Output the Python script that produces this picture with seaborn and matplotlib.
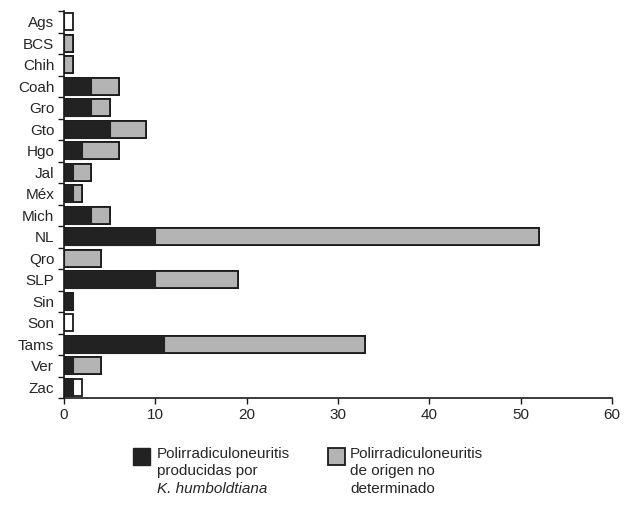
import numpy as np
import pandas as pd
import seaborn as sns
import matplotlib.pyplot as plt
from matplotlib.patches import Rectangle

estados = ["Ags", "BCS", "Chih", "Coah", "Gro", "Gto", "Hgo", "Jal", "Méx",
           "Mich", "NL", "Qro", "SLP", "Sin", "Son", "Tams", "Ver", "Zac"]
# casos producidos por K. humboldtiana (negro)
humboldtiana = [0, 0, 0, 3, 3, 5, 2, 1, 1, 3, 10, 0, 10, 1, 0, 11, 1, 1]
# casos de origen no determinado (gris)
no_determinado = [0, 1, 1, 3, 2, 4, 4, 2, 1, 2, 42, 4, 9, 0, 0, 22, 3, 0]
# segmentos sin relleno en la figura original
sin_relleno = [1, 0, 0, 0, 0, 0, 0, 0, 0, 0, 0, 0, 0, 0, 1, 0, 0, 1]

sns.set_style("ticks")
plt.rcParams['font.family'] = ['Liberation Sans', 'DejaVu Sans']

df = pd.DataFrame({"estado": estados,
                   "kh": humboldtiana,
                   "nd": no_determinado,
                   "sr": sin_relleno})
df["kh_nd"] = df["kh"] + df["nd"]
df["total"] = df["kh_nd"] + df["sr"]

fig = plt.figure(figsize=(6.33, 5.05), dpi=100)
ax = fig.add_axes([64/633, 1 - 398/505, (612-64)/633, (398-11)/505])

edge = "#1a1a1a"
w = 0.78
sns.barplot(data=df, x="total", y="estado", color="white", orient="h",
            width=w, edgecolor=edge, linewidth=1.3, saturation=1, ax=ax)
sns.barplot(data=df, x="kh_nd", y="estado", color="#b4b4b4", orient="h",
            width=w, edgecolor=edge, linewidth=1.3, saturation=1, ax=ax)
sns.barplot(data=df, x="kh", y="estado", color="#222222", orient="h",
            width=w, edgecolor="#222222", linewidth=0.8, saturation=1, ax=ax)

ax.set_xlim(0, 60)
ax.set_ylim(len(estados) - 0.5, -0.5)
ax.set_xticks(np.arange(0, 61, 10))
ax.set_xlabel("")
ax.set_ylabel("")
ax.set_yticks(np.arange(len(estados)))
ax.set_yticks(np.arange(-0.5, len(estados), 1), minor=True)
ax.tick_params(axis="y", which="major", length=0, pad=7, labelsize=11)
ax.tick_params(axis="y", which="minor", length=4, width=1, color=edge)
ax.tick_params(axis="x", length=4, width=1, labelsize=11, color=edge)
for s in ["top", "right"]:
    ax.spines[s].set_visible(False)
for s in ["left", "bottom"]:
    ax.spines[s].set_linewidth(1.2)
    ax.spines[s].set_color(edge)

# leyenda
fig.add_artist(Rectangle((133/633, 1 - 465/505), 17/633, 17/505,
                         transform=fig.transFigure, facecolor="#222222",
                         edgecolor="#222222"))
fig.add_artist(Rectangle((328/633, 1 - 465/505), 17/633, 17/505,
                         transform=fig.transFigure, facecolor="#b4b4b4",
                         edgecolor=edge, linewidth=1.3))
lineas_1 = [("Polirradiculoneuritis", "normal"), ("producidas por", "normal"),
            ("K. humboldtiana", "italic")]
lineas_2 = ["Polirradiculoneuritis", "de origen no", "determinado"]
for i, (txt, est) in enumerate(lineas_1):
    fig.text(157/633, 1 - (454 + 17.5*i)/505, txt, va="center", ha="left",
             fontsize=11, style=est)
for i, txt in enumerate(lineas_2):
    fig.text(350/633, 1 - (454 + 17.5*i)/505, txt, va="center", ha="left",
             fontsize=11)

fig.savefig("out.png", dpi=100, facecolor="white")
